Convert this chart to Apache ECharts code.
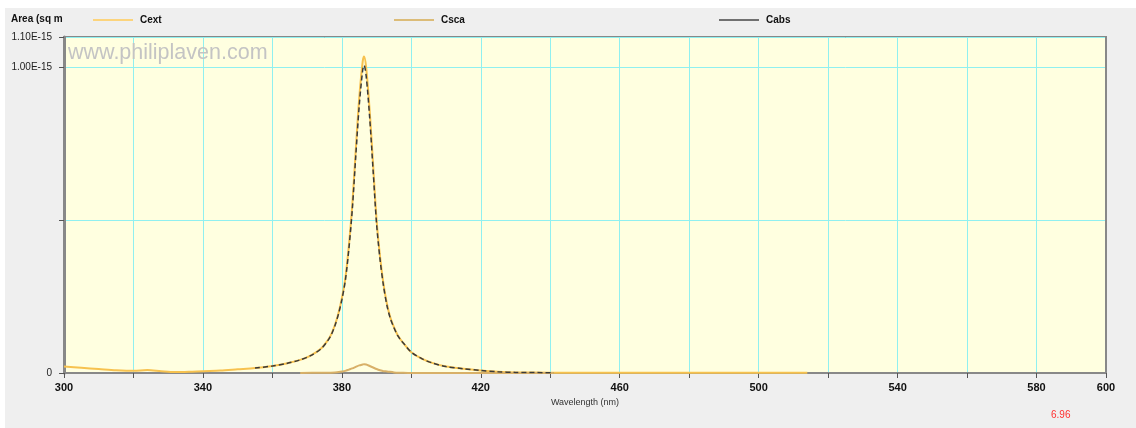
<!DOCTYPE html>
<html><head><meta charset="utf-8">
<script src="https://cdn.jsdelivr.net/npm/echarts@6/dist/echarts.min.js"></script>
<style>html,body{margin:0;padding:0;background:#fff}#c{width:1136px;height:428px}</style>
</head><body><div id="c"></div>
<script>
// values in units of 1E-15 sq m
const cextNm = [300,305,310,315,320,324,328,332,336,340,345,350,355,360,364,368,371,374,376,377,378,379,380,381,382,383,384,385,386,386.4,387,388,389,390,391,392,393,394,395,396,397,398,400,403,406,410,415,420,425,430,440,460,480,500,514];
const cextVal = [0.021,0.017,0.013,0.009,0.007,0.010,0.006,0.003,0.004,0.006,0.008,0.012,0.016,0.023,0.031,0.043,0.057,0.080,0.108,0.128,0.157,0.195,0.245,0.310,0.415,0.550,0.730,0.900,1.020,1.036,1.000,0.860,0.680,0.500,0.380,0.290,0.225,0.180,0.150,0.125,0.108,0.094,0.068,0.047,0.033,0.021,0.014,0.008,0.004,0.002,0.001,0.0005,0.0005,0.0005,0.0005];
const cscaNm = [368,374,378,380,381,382,383,384,385,386,386.4,387,388,389,390,391,392,393,395,397,400,441];
const cscaVal = [0,0.001,0.002,0.005,0.007,0.011,0.015,0.020,0.025,0.028,0.029,0.028,0.023,0.018,0.013,0.009,0.006,0.005,0.002,0.001,0,0];
const cabsNm = [355,360,364,368,371,374,376,377,378,379,380,381,382,383,384,385,386,386.4,387,388,389,390,391,392,393,394,395,396,397,398,400,403,406,410,415,420,425,430,441];
const cabsVal = [0.016,0.023,0.031,0.043,0.057,0.079,0.107,0.126,0.155,0.192,0.240,0.303,0.404,0.535,0.710,0.875,0.992,1.007,0.972,0.837,0.662,0.487,0.371,0.284,0.220,0.177,0.148,0.124,0.107,0.094,0.068,0.047,0.033,0.021,0.014,0.008,0.004,0.002,0.001];
const xLabelTicks = [300,340,380,420,460,500,540,580,600];
const yLabels = {0:'0', 1:'1.00E-15', 1.1:'1.10E-15'};

const zip = (a,b)=>a.map((v,i)=>[v,b[i]]);
const chart = echarts.init(document.getElementById('c'), null, {renderer:'canvas'});
const font = '"Liberation Sans", "DejaVu Sans", Arial, sans-serif';
const legendText = {fontWeight:'bold', fontSize:10, color:'#111', padding:[0,0,0,2]};
chart.setOption({
  backgroundColor:'#ffffff',
  animation:false,
  textStyle:{fontFamily:font},
  graphic:[
    {type:'rect', z:-10, shape:{x:5,y:8,width:1131,height:420}, style:{fill:'#efefef'}},
    {type:'text', left:11, top:14, style:{text:'Area (sq m', font:'bold 10px '+font, fill:'#111'}},
    {type:'text', left:68, top:42, z:10, style:{text:'www.philiplaven.com', font:'21.5px '+font, fill:'#c4c4c4'}},
    {type:'text', left:1051, top:410, style:{text:'6.96', font:'10px '+font, fill:'#ff3030'}}
  ],
  legend:[
    {data:['Cext'], left:88, top:10, icon:'rect', itemWidth:40, itemHeight:2, itemStyle:{color:'#fcd47c'}, textStyle:legendText},
    {data:['Csca'], left:389, top:10, icon:'rect', itemWidth:40, itemHeight:2, itemStyle:{color:'#dcbc78'}, textStyle:legendText},
    {data:['Cabs'], left:714, top:10, icon:'rect', itemWidth:40, itemHeight:2, itemStyle:{color:'#707070'}, textStyle:legendText}
  ],
  grid:{left:64, right:30, top:37, bottom:55, show:true, backgroundColor:'#ffffe0', borderColor:'#888', borderWidth:2},
  xAxis:[
    {type:'value', min:300, max:600, interval:20,
    name:'Wavelength (nm)', nameLocation:'middle', nameGap:24, nameTextStyle:{fontSize:9, color:'#333'},
    axisLine:{lineStyle:{color:'#888', width:2}},
    axisTick:{length:5, lineStyle:{color:'#555'}},
    axisLabel:{margin:9, fontWeight:'bold', fontSize:11, color:'#111',
      formatter:v=>xLabelTicks.indexOf(v)>=0?String(v):''},
    splitLine:{show:true, lineStyle:{color:'#90f0f0', width:1}}},
    {type:'value', position:'top', min:300, max:600, axisLine:{show:true, lineStyle:{color:'#888', width:2}}, axisTick:{show:false}, axisLabel:{show:false}, splitLine:{show:false}}
  ],
  yAxis:[
    {type:'value', min:0, max:1.1, interval:0.5,
    axisLine:{show:true, lineStyle:{color:'#888', width:3}},
    axisTick:{show:true, length:5, lineStyle:{color:'#555'}},
    axisLabel:{margin:12, fontSize:10, color:'#222',
      formatter:v=>{const k=Math.round(v*100)/100; return yLabels[k]!==undefined?yLabels[k]:'';}},
    splitLine:{show:true, lineStyle:{color:'#90f0f0', width:1}}},
    {type:'value', position:'right', min:0, max:1.1, axisLine:{show:true, lineStyle:{color:'#888', width:2}}, axisTick:{show:false}, axisLabel:{show:false}, splitLine:{show:false}}
  ],
  series:[
    {name:'Cext', type:'line', data:zip(cextNm,cextVal), showSymbol:false, smooth:0.3, lineStyle:{color:'#f7c24f', width:2}, itemStyle:{color:'#fcd47c'}, z:2},
    {name:'Csca', type:'line', data:zip(cscaNm,cscaVal), showSymbol:false, smooth:0.3, lineStyle:{color:'#d8b068', width:2}, itemStyle:{color:'#dcbc78'}, z:3},
    {name:'Cabs', type:'line', data:zip(cabsNm,cabsVal), showSymbol:false, smooth:0.3, lineStyle:{color:'#3a3a3a', width:1.5, type:[5,3]}, itemStyle:{color:'#707070'}, z:4}
  ]
});
</script></body></html>
